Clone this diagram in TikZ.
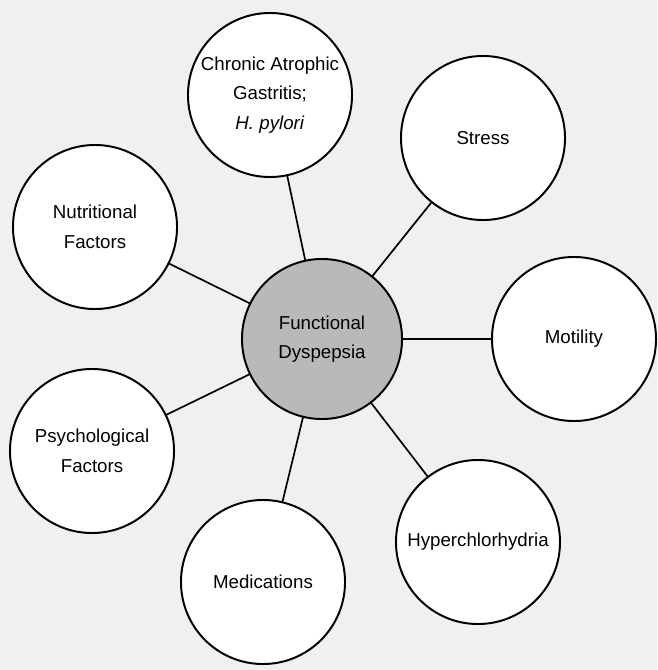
\documentclass[tikz,border=0pt]{standalone}
\usepackage{fontspec}
\setmainfont{Liberation Sans}

\begin{document}
\begin{tikzpicture}[x=0.025cm,y=-0.025cm,line cap=round,line join=round,
  factor/.style={circle,draw,line width=1.4pt,fill=white,minimum size=4.1cm,inner sep=0pt,align=center,font=\fontsize{13.3}{21}\selectfont},
  hub/.style={factor,fill=gray!55,minimum size=4cm},
  link/.style={line width=1.2pt}]
\fill[color=gray!12] (0,0) rectangle (657,670);
\useasboundingbox (0,0) rectangle (657,670);
% centre and the seven factors
\node[hub] (dyspepsia) at (322,339) {Functional\\Dyspepsia};
\node[factor] (gastritis) at (270,95) {Chronic Atrophic\\Gastritis;\\\textit{H. pylori}};
\node[factor] (stress) at (483,138) {Stress};
\node[factor] (nutrition) at (95,227) {Nutritional\\Factors};
\node[factor] (motility) at (574,339) {Motility};
\node[factor] (psych) at (92,451) {Psychological\\Factors};
\node[factor] (meds) at (263,582) {Medications};
\node[factor] (hyper) at (478,542) {Hyperchlorhydria};
\draw[link] (dyspepsia) -- (gastritis);
\draw[link] (dyspepsia) -- (stress);
\draw[link] (dyspepsia) -- (nutrition);
\draw[link] (dyspepsia) -- (motility);
\draw[link] (dyspepsia) -- (psych);
\draw[link] (dyspepsia) -- (meds);
\draw[link] (dyspepsia) -- (hyper);
\end{tikzpicture}
\end{document}
